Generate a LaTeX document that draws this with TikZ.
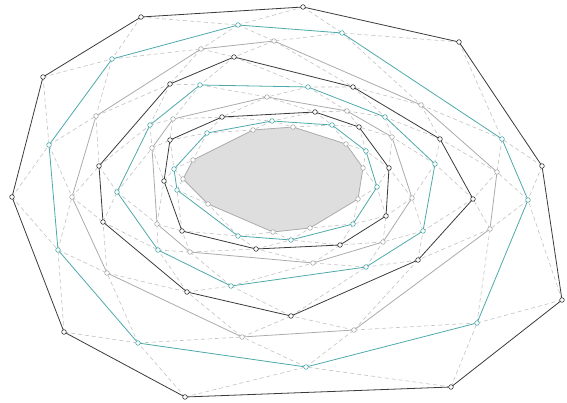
\documentclass[tikz,border=0pt]{standalone}
\usepackage{xcolor}
\usepackage{tikz}
\usetikzlibrary{calc}

\definecolor{ringblack}{HTML}{3A3A3A}
\definecolor{ringteal}{HTML}{4FA9AB}
\definecolor{ringgray}{HTML}{ABABAB}

\begin{document}
\begin{tikzpicture}[x=1pt, y=-1pt, line width=0.8pt]
    \tikzset{
        vtx/.style={circle, draw, fill=white, inner sep=0pt, minimum size=4.6pt, line width=0.6pt},
        link/.style={draw=black!24, dash pattern=on 4pt off 3pt, line width=0.6pt},
        ring/.style={line join=round}
    }
    \useasboundingbox (0,0) rectangle (567,403);

    % convex layers, from the outside in
    \foreach \x/\y [count=\i from 0] in {43/77,141/17,303/7,459/42,542/166,562/300,451/387,185/397,64/332,12/197}
        \coordinate (L1-\i) at (\x,\y);
    \foreach \x/\y [count=\i from 0] in {49/145,112/59,238/25,342/33,502/139,528/200,477/323,306/367,138/343,58/250}
        \coordinate (L2-\i) at (\x,\y);
    \foreach \x/\y [count=\i from 0] in {72/197,96/116,201/49,274/41,421/105,497/172,490/229,354/330,242/337,107/273}
        \coordinate (L3-\i) at (\x,\y);
    \foreach \x/\y [count=\i from 0] in {103/222,99/166,170/84,234/57,353/87,440/139,473/199,418/260,291/316,187/292}
        \coordinate (L4-\i) at (\x,\y);
    \foreach \x/\y [count=\i from 0] in {158/250,117/192,150/125,200/85,308/87,385/117,435/164,423/231,366/267,231/286}
        \coordinate (L5-\i) at (\x,\y);
    \foreach \x/\y [count=\i from 0] in {190/252,157/224,152/148,173/119,267/97,347/111,392/137,412/198,383/242,313/263}
        \coordinate (L6-\i) at (\x,\y);
    \foreach \x/\y [count=\i from 0] in {256/249,182/231,164/181,170/140,222/117,315/112,359/127,389/168,386/216,340/245}
        \coordinate (L7-\i) at (\x,\y);
    \foreach \x/\y [count=\i from 0] in {291/240,238/236,177/190,174/169,207/133,272/121,332/125,366/151,377/187,353/224}
        \coordinate (L8-\i) at (\x,\y);
    \foreach \x/\y [count=\i from 0] in {310/228,273/232,208/204,183/179,193/160,253/130,293/127,346/144,363/168,358/199}
        \coordinate (L9-\i) at (\x,\y);

    % core
    \fill[black!13] (L9-0) \foreach \i in {1,...,9}{ -- (L9-\i)} -- cycle;

    % dashed links between neighbouring layers
    \foreach \k in {1,...,8}{
        \pgfmathtruncatemacro{\n}{\k+1}
        \foreach \i in {0,...,9}{
            \pgfmathtruncatemacro{\j}{mod(\i+1,10)}
            \path[link] (L\k-\i) -- (L\n-\i) (L\k-\i) -- (L\n-\j);
        }
    }

    % layer outlines
    \foreach \k/\col in {1/ringblack,2/ringteal,3/ringgray,4/ringblack,5/ringteal,6/ringgray,7/ringblack,8/ringteal,9/ringgray}
        \draw[ring, \col] (L\k-0) \foreach \i in {1,...,9}{ -- (L\k-\i)} -- cycle;

    % vertices
    \foreach \k/\col in {1/ringblack,2/ringteal,3/ringgray,4/ringblack,5/ringteal,6/ringgray,7/ringblack,8/ringteal,9/ringgray}
        \foreach \i in {0,...,9}
            \node (V\k-\i) [vtx, draw=\col] at (L\k-\i) {};
\end{tikzpicture}
\end{document}
